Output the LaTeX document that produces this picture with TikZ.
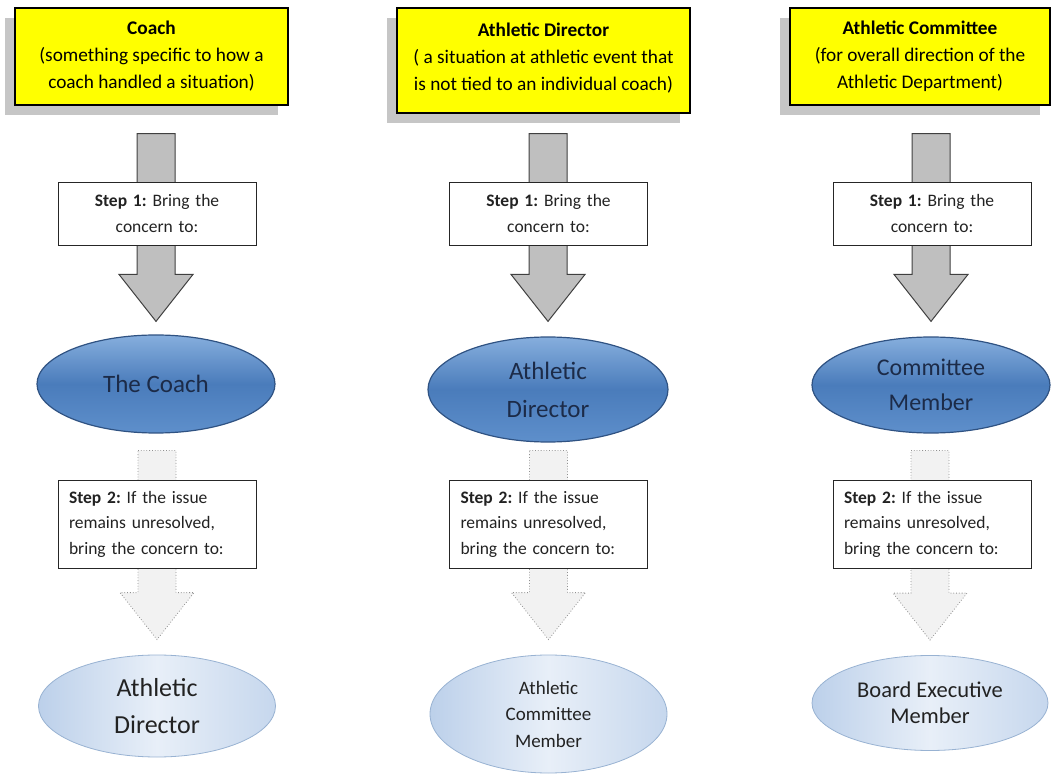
\documentclass[tikz,border=0pt]{standalone}
\usepackage{fontspec}
\setmainfont{Carlito}
\usetikzlibrary{positioning, shapes.geometric, calc, shadows}
\definecolor{cYellow}{HTML}{FFFF00}
\definecolor{cShadow}{HTML}{C6C6C6}
\definecolor{cArrow}{HTML}{BFBFBF}
\definecolor{cArrowLine}{HTML}{404040}
\definecolor{cGhost}{HTML}{F2F2F2}
\definecolor{cGhostLine}{HTML}{909090}
\definecolor{cBlueTop}{HTML}{86AEDD}
\definecolor{cBlueMid}{HTML}{4A7CBB}
\definecolor{cBlueBot}{HTML}{5E8FCB}
\definecolor{cBlueLine}{HTML}{2F5282}
\definecolor{cBlueText}{HTML}{1C2B48}
\definecolor{cPale}{HTML}{BCD0EA}
\definecolor{cPaleHi}{HTML}{E8EFF8}
\definecolor{cPaleLine}{HTML}{98B2D2}
\definecolor{cInk}{HTML}{222222}
\tikzset{
  topbox/.style={
    draw=black, line width=1.1pt, fill=cYellow, align=center,
    inner sep=0pt, font=\fontsize{19.3}{27}\selectfont, text=black,
    drop shadow={shadow xshift=-10pt, shadow yshift=-10pt,
                 fill=cShadow, opacity=1}
  },
  stepbox/.style={
    draw=black!85, line width=0.9pt, fill=white, align=#1,
    text width=176pt, inner xsep=11pt, inner ysep=0pt,
    font=\fontsize{17.5}{25.5}\selectfont, text=cInk
  },
  darkell/.style={
    ellipse, draw=cBlueLine, line width=1.2pt, inner sep=0pt,
    top color=cBlueTop, bottom color=cBlueBot, middle color=cBlueMid,
    align=center, font=\fontsize{25}{38}\selectfont, text=cBlueText
  },
  paleell/.style={
    ellipse, draw=cPaleLine, line width=0.8pt, inner sep=0pt,
    left color=cPale, right color=cPale!85, middle color=cPaleHi,
    align=center, text=cInk
  },
  bigarrow/.style={
    fill=cArrow, draw=cArrowLine, line width=1pt
  },
  ghostarrow/.style={
    fill=cGhost, draw=cGhostLine, line width=0.8pt, dotted
  },
}
% block arrow: style, shaft top, tip
\newcommand{\stepArrow}[3]{%
  \draw[#1] let \p1=(#2), \p2=(#3) in
    (\x2-19pt,\y1) -- (\x2+19pt,\y1) -- (\x2+19pt,\y2+47pt)
    -- (\x2+37pt,\y2+47pt) -- (\x2,\y2) -- (\x2-37pt,\y2+47pt)
    -- (\x2-19pt,\y2+47pt) -- cycle;}
\frenchspacing

\begin{document}
\begin{tikzpicture}[x=1pt, y=1pt]
\useasboundingbox (0,0) rectangle (1053,-775);

% ---- Coach ----
\node[topbox, minimum width=273pt, minimum height=97pt] (coachTop) at (151.5,-56.5)
  {\textbf{Coach}\\(something specific to how a\\coach handled a situation)};
\node[darkell, minimum width=238pt, minimum height=98pt] (coachOne) at (156,-384)
  {The Coach};
\node[paleell, minimum width=237pt, minimum height=102pt,
      font=\fontsize{26}{37}\selectfont] (coachTwo) at (157,-706)
  {Athletic\\Director};

% ---- Athletic Director ----
\node[topbox, minimum width=293pt, minimum height=105pt] (adTop) at (543.5,-60.5)
  {\textbf{Athletic Director}\\( a situation at athletic event that\\is not tied to an individual coach)\\[-19pt]\mbox{}};
\node[darkell, minimum width=240pt, minimum height=105pt] (adOne) at (548,-389.5)
  {Athletic\\Director};
\node[paleell, minimum width=237pt, minimum height=118pt,
      font=\fontsize{19}{26.5}\selectfont] (adTwo) at (548.5,-714)
  {Athletic\\Committee\\Member};

% ---- Athletic Committee ----
\node[topbox, minimum width=260pt, minimum height=97pt] (acTop) at (920,-56.5)
  {\textbf{Athletic Committee}\\(for overall direction of the\\Athletic Department)};
\node[darkell, minimum width=238pt, minimum height=96pt,
      font=\fontsize{24}{35}\selectfont] (acOne) at (931,-385)
  {Committee\\Member};
\node[paleell, minimum width=236pt, minimum height=95pt,
      font=\fontsize{22.5}{26}\selectfont] (acTwo) at (930,-703)
  {Board Executive\\Member};

% ---- arrows ----
\stepArrow{bigarrow}{$(coachTop.south)+(0,-28)$}{$(coachOne.north)+(0,13)$}
\stepArrow{bigarrow}{$(adTop.south)+(0,-20)$}{$(adOne.north)+(0,15)$}
\stepArrow{bigarrow}{$(acTop.south)+(0,-28)$}{$(acOne.north)+(0,15)$}
\stepArrow{ghostarrow}{$(coachOne.south)+(0,-17)$}{$(coachTwo.north)+(0,15)$}
\stepArrow{ghostarrow}{$(adOne.south)+(0,-8)$}{$(adTwo.north)+(0,15)$}
\stepArrow{ghostarrow}{$(acOne.south)+(0,-17)$}{$(acTwo.north)+(0,15)$}

% ---- step boxes ----
\node[stepbox=center, minimum height=63pt] (coachStepA) at (157,-213.5)
  {\textbf{Step 1:} Bring the\\concern to:};
\node[stepbox=left, minimum height=88pt] (coachStepB) at (157,-524)
  {\textbf{Step 2:} If the issue\\remains unresolved,\\bring the concern to:};
\node[stepbox=center, minimum height=63pt] (adStepA) at (548.5,-213.5)
  {\textbf{Step 1:} Bring the\\concern to:};
\node[stepbox=left, minimum height=88pt] (adStepB) at (548.5,-524)
  {\textbf{Step 2:} If the issue\\remains unresolved,\\bring the concern to:};
\node[stepbox=center, minimum height=63pt] (acStepA) at (932,-213.5)
  {\textbf{Step 1:} Bring the\\concern to:};
\node[stepbox=left, minimum height=88pt] (acStepB) at (932,-524)
  {\textbf{Step 2:} If the issue\\remains unresolved,\\bring the concern to:};

\end{tikzpicture}
\end{document}
